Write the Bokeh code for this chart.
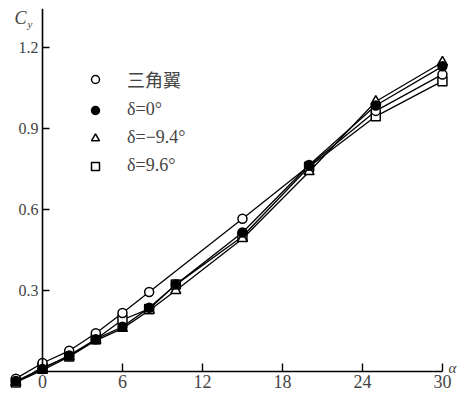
from bokeh.plotting import figure
from bokeh.models import LinearAxis, FixedTicker, Legend, LegendItem, Label
from bokeh.embed import file_html
from bokeh.resources import INLINE

# data
alpha_tri_wing = [-2, 0, 2, 4, 6, 8, 15, 20, 25, 30]
cy_tri_wing = [-0.026, 0.032, 0.077, 0.142, 0.217, 0.295, 0.566, 0.762, 0.965, 1.100]

alpha = [-2, 0, 2, 4, 6, 8, 10, 15, 20, 25, 30]
cy_d0 = [-0.035, 0.010, 0.060, 0.120, 0.166, 0.236, 0.322, 0.515, 0.765, 0.985, 1.130]
cy_dm94 = [-0.040, 0.005, 0.055, 0.115, 0.160, 0.226, 0.300, 0.492, 0.740, 1.000, 1.145]
cy_d96 = [-0.040, 0.015, 0.056, 0.120, 0.192, 0.232, 0.322, 0.500, 0.758, 0.945, 1.075]

x_ticks = [0, 6, 12, 18, 24, 30]
y_ticks = [0.3, 0.6, 0.9, 1.2]
y_tick_labels = {0.3: "0.3", 0.6: "0.6", 0.9: "0.9", 1.2: "1.2"}

labels = ["三角翼", "δ=0°", "δ=−9.4°", "δ=9.6°"]

SERIF = "'Liberation Serif', 'Noto Sans CJK SC'"

p = figure(width=459, height=401, x_range=(-2.55, 31.28), y_range=(-0.081, 1.344),
           min_border_left=8, min_border_top=8, min_border_right=0, min_border_bottom=8,
           toolbar_location=None, output_backend="svg",
           x_axis_location=None, y_axis_location=None)
p.xgrid.visible = False
p.ygrid.visible = False
p.outline_line_color = None

yax = LinearAxis(fixed_location=0, ticker=FixedTicker(ticks=y_ticks),
                 major_label_overrides=y_tick_labels, bounds=(0, 1.36))
yax.major_tick_in = 7
yax.major_tick_out = 0
yax.minor_tick_in = 0
yax.minor_tick_out = 0
yax.axis_line_width = 1.6
yax.major_tick_line_width = 1.4
yax.major_label_text_font = "Liberation Serif"
yax.major_label_text_font_size = "16px"
yax.major_label_standoff = 4
p.add_layout(yax, "left")

xax = LinearAxis(fixed_location=0, ticker=FixedTicker(ticks=x_ticks), bounds=(-0.6, 30))
xax.major_tick_in = 8
xax.major_tick_out = 0
xax.minor_tick_in = 0
xax.minor_tick_out = 0
xax.axis_line_width = 1.6
xax.major_tick_line_width = 1.4
xax.major_label_text_font = "Liberation Serif"
xax.major_label_text_font_size = "18px"
xax.major_label_standoff = 3
p.add_layout(xax, "below")

lw = 1.3
p.line(alpha_tri_wing, cy_tri_wing, line_color="black", line_width=lw)
p.line(alpha, cy_d0, line_color="black", line_width=lw)
p.line(alpha, cy_dm94, line_color="black", line_width=lw)
p.line(alpha, cy_d96, line_color="black", line_width=lw)

r_sq = p.scatter(alpha, cy_d96, marker="square", size=9, fill_color="white", line_color="black", line_width=1.5)
r_tr = p.scatter(alpha, cy_dm94, marker="triangle", size=10, fill_color="white", line_color="black", line_width=1.5)
r_ci = p.scatter(alpha_tri_wing, cy_tri_wing, marker="circle", size=9, fill_color="white", line_color="black", line_width=1.5)
r_fi = p.scatter(alpha, cy_d0, marker="circle", size=9, fill_color="black", line_color="black", line_width=1.5)

legend = Legend(items=[LegendItem(label=labels[0], renderers=[r_ci]),
                       LegendItem(label=labels[1], renderers=[r_fi]),
                       LegendItem(label=labels[2], renderers=[r_tr]),
                       LegendItem(label=labels[3], renderers=[r_sq])],
                location=(77, 217), glyph_width=20, glyph_height=20, spacing=7,
                label_standoff=22, padding=0, margin=0,
                border_line_alpha=0, background_fill_alpha=0,
                label_text_font=SERIF, label_text_font_size="18px")
p.add_layout(legend, "center")

p.add_layout(Label(x=-1.65, y=1.307, text="C", text_font="Liberation Serif", text_font_style="italic",
                   text_font_size="18px", text_align="center", text_baseline="middle"))
p.add_layout(Label(x=-0.95, y=1.285, text="y", text_font="Liberation Serif", text_font_style="italic",
                   text_font_size="11px", text_align="center", text_baseline="middle"))
p.add_layout(Label(x=30.75, y=0.015, text="α", text_font="Liberation Serif", text_font_style="italic",
                   text_font_size="15px", text_align="center", text_baseline="middle"))

open("out.html", "w").write(file_html(p, INLINE))
